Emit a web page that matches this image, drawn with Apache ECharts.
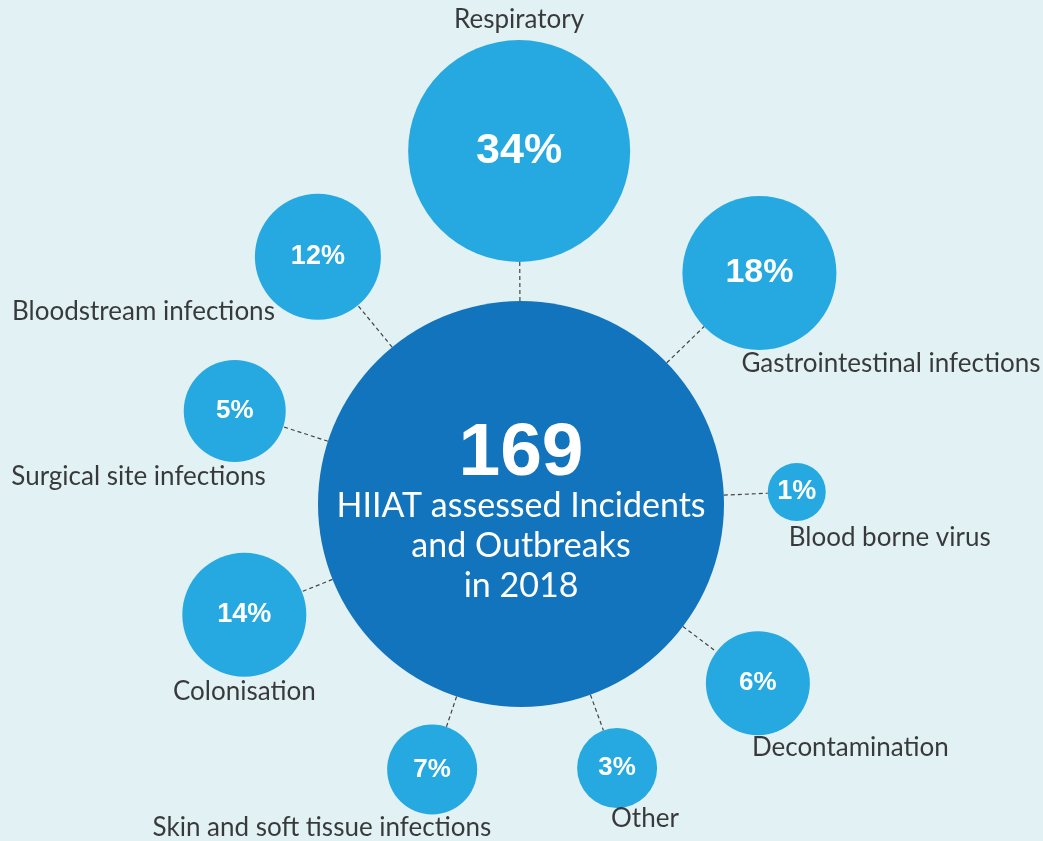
<!DOCTYPE html>
<html>
<head>
<meta charset="utf-8">
<script src="https://cdn.jsdelivr.net/npm/echarts@6/dist/echarts.min.js"></script>
<style>
html,body{margin:0;padding:0;background:#e2f1f3;}
#chart{width:1043px;height:841px;}
</style>
</head>
<body>
<div id="chart"></div>
<script>
// ---- data ----
const categories = ['Respiratory','Gastrointestinal infections','Blood borne virus','Decontamination','Other','Skin and soft tissue infections','Colonisation','Surgical site infections','Bloodstream infections'];
const percents = [34, 18, 1, 6, 3, 7, 14, 5, 12];
const totalCount = 169;
const centreLines = ['HIIAT assessed Incidents', 'and Outbreaks', 'in 2018'];

// ---- layout (positions in polar units: distance px, angle deg) ----
const angles    = [90.3, 44.1, 2.5, 322.9, 290, 251.5, 201.8, 162.0, 129.4];
const distances = [353, 332, 276, 297, 281, 280, 298, 301, 320];
const radii     = [111, 77, 29, 52, 40, 45, 62, 51, 63];
const pctFont   = [43, 34, 27, 26, 26, 26, 27, 26, 27];
const nameAlign = ['center','left','left','left','left','right','center','right','right'];
const nameOffset= [[0,-131],[-18,91],[-8,46],[-6,64],[-6,51],[59,58],[0,77],[31,66],[-43,55]];
const centreR = 203;

const bubbleData = categories.map((c, i) => ({
  name: c,
  value: [distances[i], angles[i]],
  symbolSize: radii[i] * 2,
  label: { fontSize: pctFont[i] }
}));
const nameData = categories.map((c, i) => ({
  name: c,
  value: [distances[i], angles[i]],
  label: { align: nameAlign[i], offset: nameOffset[i] }
}));

const connectorSeries = categories.map((c, i) => ({
  type: 'line',
  coordinateSystem: 'polar',
  data: [[centreR, angles[i]], [distances[i] - radii[i], angles[i]]],
  symbol: 'none',
  silent: true,
  z: 1,
  lineStyle: { color: '#444', width: 1.2, type: [4, 3] }
}));

const chart = echarts.init(document.getElementById('chart'));
chart.setOption({
  backgroundColor: '#e2f1f3',
  animation: false,
  polar: { center: [521, 504], radius: 400 },
  radiusAxis: { type: 'value', min: 0, max: 400, show: false, axisLine:{show:false}, splitLine:{show:false} },
  angleAxis: { type: 'value', min: 0, max: 360, startAngle: 0, clockwise: false, show: false, splitLine:{show:false} },
  series: [
    ...connectorSeries,
    {
      type: 'scatter',
      coordinateSystem: 'polar',
      z: 3,
      symbol: 'circle',
      data: [{ value: [0, 0], symbolSize: centreR * 2 }],
      itemStyle: { color: '#1174bd', opacity: 1 },
      label: {
        show: true,
        position: 'inside',
        offset: [0, 10],
        formatter: () => '{big|' + totalCount + '}\n' + centreLines.map(l => '{txt|' + l + '}').join('\n'),
        rich: {
          big: { fontFamily: 'Liberation Sans, Arial, sans-serif', fontWeight: 'bold', fontSize: 75, color: '#fff', lineHeight: 65 },
          txt: { fontFamily: 'Lato, sans-serif', fontSize: 34, color: '#fff', lineHeight: 40 }
        }
      }
    },
    {
      type: 'scatter',
      coordinateSystem: 'polar',
      z: 3,
      symbol: 'circle',
      data: bubbleData,
      itemStyle: { color: '#25a9e0', opacity: 1 },
      label: {
        show: true,
        position: 'inside',
        formatter: p => percents[p.dataIndex] + '%',
        fontFamily: 'Liberation Sans, Arial, sans-serif',
        fontWeight: 'bold',
        color: '#fff'
      }
    },
    {
      type: 'scatter',
      coordinateSystem: 'polar',
      z: 4,
      symbolSize: 0,
      data: nameData,
      silent: true,
      label: {
        show: true,
        position: 'inside',
        verticalAlign: 'middle',
        formatter: p => p.name,
        fontFamily: 'Lato, sans-serif',
        fontSize: 26,
        color: '#0d0b0c'
      }
    }
  ]
});
</script>
</body>
</html>
